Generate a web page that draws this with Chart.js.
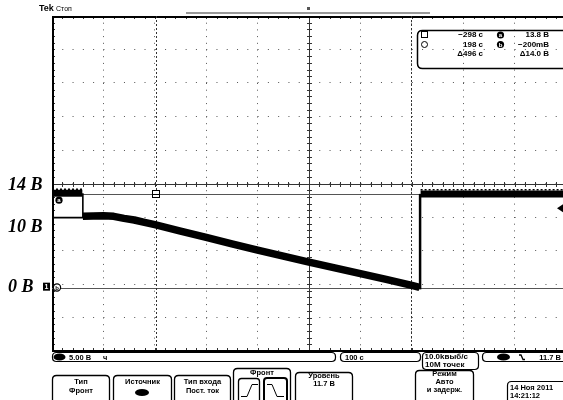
<!DOCTYPE html>
<html>
<head>
<meta charset="utf-8">
<script src="https://cdn.jsdelivr.net/npm/chart.js@4/dist/chart.umd.min.js"></script>
<style>
  html, body { margin: 0; padding: 0; background: #fff; overflow: hidden; }
  canvas { display: block; }
</style>
</head>
<body>
<canvas id="scope" width="563" height="400"></canvas>
<script>
// Graticule: 100 s/div horizontally, 5 V/div vertically
const timeRange = [-500, 494];
const voltRange = [-9.6, 40.4];
const centerTime = 0;
const centerVolt = 15.4;
const timeGrid = [-400, -300, -200, -100, 0, 100, 200, 300, 400];
const voltGrid = [-4.6, 0.4, 5.4, 10.4, 15.4, 20.4, 25.4, 30.4, 35.4];

// Channel 1 trace, seconds / volts
const preTimes  = [-500, -441];
const preVolts  = [13.95, 13.95];
const prePeaks  = [14.55, 14.55];
const rampTimes = [-440, -420, -400, -380, -360, -340, -320, -300, -250, -200, -150, -100, -50, 0, 50, 100, 150, 200, 215];
const rampVolts = [10.5, 10.55, 10.6, 10.5, 10.2, 9.95, 9.6, 9.25, 8.3, 7.35, 6.4, 5.45, 4.55, 3.66, 2.8, 1.95, 1.1, 0.2, -0.1];
const postTimes = [217, 494];
const postVolts = [13.85, 13.85];
const postPeaks = [14.45, 14.45];
const edgeTimes = [-500, -440, -440];
const edgeVolts = [10.3, 10.3, 13.95];
const riseTimes = [216, 216];
const riseVolts = [-0.4, 13.85];

// Cursors and trigger
const cursorTimes = [-298, 198];
const cursorVolts = [13.8, -0.2];
const triggerLevel = 11.7;

// Hand-written level marks on the left
const levelLabels = ['14 B', '10 B', '0 B'];
const levelLabelY = [185, 227, 287];

const pts = (ts, vs) => ts.map((t, i) => ({ x: t, y: vs[i] }));

function fmtTime(t) { return (t < 0 ? '\u2212' : '') + Math.abs(Math.round(t)) + ' c'; }
function fmtVolt(v) {
  if (Math.abs(v) < 1) return (v < 0 ? '\u2212' : '') + Math.round(Math.abs(v) * 1000) + 'mB';
  return (v < 0 ? '\u2212' : '') + Math.abs(v).toFixed(1) + ' B';
}

function rrect(ctx, x, y, w, h, r) {
  ctx.beginPath();
  ctx.moveTo(x + r, y);
  ctx.lineTo(x + w - r, y);
  ctx.quadraticCurveTo(x + w, y, x + w, y + r);
  ctx.lineTo(x + w, y + h - r);
  ctx.quadraticCurveTo(x + w, y + h, x + w - r, y + h);
  ctx.lineTo(x + r, y + h);
  ctx.quadraticCurveTo(x, y + h, x, y + h - r);
  ctx.lineTo(x, y + r);
  ctx.quadraticCurveTo(x, y, x + r, y);
  ctx.closePath();
}

function circLetter(ctx, cx, cy, ch, filled) {
  ctx.beginPath();
  ctx.arc(cx, cy, 3.6, 0, Math.PI * 2);
  if (filled) { ctx.fillStyle = '#000'; ctx.fill(); }
  else { ctx.fillStyle = '#fff'; ctx.fill(); ctx.lineWidth = 1.2; ctx.strokeStyle = '#000'; ctx.stroke(); }
  ctx.fillStyle = filled ? '#fff' : '#000';
  ctx.font = 'bold 6px "Liberation Sans"';
  ctx.textAlign = 'center'; ctx.textBaseline = 'middle';
  ctx.fillText(ch, cx, cy + 0.5);
}

// Centre crosshair, frame ticks and cursors
const graticule = {
  id: 'graticule',
  beforeDatasetsDraw(chart) {
    const { ctx, chartArea: a, scales: { x, y } } = chart;
    const cx = Math.round(x.getPixelForValue(centerTime)) + 0.5;
    const cy = Math.round(y.getPixelForValue(centerVolt)) + 0.5;
    ctx.save();
    ctx.strokeStyle = '#333';
    ctx.lineWidth = 1;
    ctx.beginPath();
    ctx.moveTo(a.left, cy); ctx.lineTo(a.right, cy);
    ctx.moveTo(cx, a.top); ctx.lineTo(cx, a.bottom);
    for (let t = timeRange[0]; t <= timeRange[1]; t += 20) {
      const px = Math.round(x.getPixelForValue(t)) + 0.5;
      ctx.moveTo(px, cy - 2.5); ctx.lineTo(px, cy + 2.5);
      ctx.moveTo(px, a.top); ctx.lineTo(px, a.top + 3);
      ctx.moveTo(px, a.bottom); ctx.lineTo(px, a.bottom - 3);
    }
    for (let v = voltRange[0]; v <= voltRange[1] + 0.01; v += 1) {
      const py = Math.round(y.getPixelForValue(v)) + 0.5;
      ctx.moveTo(cx - 2.5, py); ctx.lineTo(cx + 2.5, py);
      ctx.moveTo(a.left, py); ctx.lineTo(a.left + 3, py);
    }
    ctx.stroke();

    // frame
    ctx.strokeStyle = '#000';
    ctx.lineWidth = 2;
    ctx.beginPath();
    ctx.moveTo(a.left + 1, a.bottom); ctx.lineTo(a.left + 1, a.top + 1); ctx.lineTo(a.right, a.top + 1);
    ctx.moveTo(a.left, a.bottom); ctx.lineTo(a.right, a.bottom);
    ctx.stroke();

    // horizontal cursors
    ctx.strokeStyle = '#555';
    ctx.lineWidth = 1;
    ctx.beginPath();
    cursorVolts.forEach(v => {
      const py = Math.round(y.getPixelForValue(v)) + 0.5;
      ctx.moveTo(a.left, py); ctx.lineTo(a.right, py);
    });
    ctx.stroke();
    // vertical cursors
    ctx.strokeStyle = '#333';
    ctx.setLineDash([2, 2]);
    ctx.beginPath();
    cursorTimes.forEach(t => {
      const px = Math.round(x.getPixelForValue(t)) + 0.5;
      ctx.moveTo(px, a.top); ctx.lineTo(px, a.bottom);
    });
    ctx.stroke();
    ctx.setLineDash([]);
    ctx.restore();
  },
  afterDatasetsDraw(chart) {
    const { ctx, chartArea: a, scales: { x, y } } = chart;
    ctx.save();
    // cursor 1 marker
    const mx = Math.round(x.getPixelForValue(cursorTimes[0]));
    const my = Math.round(y.getPixelForValue(cursorVolts[0]));
    ctx.fillStyle = '#fff';
    ctx.fillRect(mx - 3.5, my - 3.5, 7, 7);
    ctx.strokeStyle = '#000'; ctx.lineWidth = 1;
    ctx.strokeRect(mx - 3.5, my - 3.5, 7, 7);
    ctx.beginPath(); ctx.moveTo(mx - 3.5, my + 0.5); ctx.lineTo(mx + 3.5, my + 0.5); ctx.stroke();

    // trigger level arrow on the right edge
    const ty = y.getPixelForValue(triggerLevel);
    ctx.fillStyle = '#000';
    ctx.beginPath();
    ctx.moveTo(a.right - 6, ty); ctx.lineTo(a.right, ty - 4); ctx.lineTo(a.right, ty + 4); ctx.closePath();
    ctx.fill();

    // cursor tags a / b and channel ground mark
    circLetter(ctx, a.left + 7, y.getPixelForValue(cursorVolts[0]) + 6, 'a', true);
    circLetter(ctx, a.left + 5, y.getPixelForValue(cursorVolts[1]) - 0.5, 'b', false);
    const gy = y.getPixelForValue(0);
    ctx.fillStyle = '#000';
    ctx.fillRect(a.left - 9, gy - 4, 7, 8);
    ctx.fillStyle = '#fff';
    ctx.font = 'bold 7px "Liberation Sans"';
    ctx.textAlign = 'center'; ctx.textBaseline = 'middle';
    ctx.fillText('1', a.left - 5.5, gy + 0.5);
    ctx.restore();
  },
  afterDraw(chart) {
    const { ctx } = chart;
    ctx.save();
    ctx.fillStyle = '#000';
    ctx.strokeStyle = '#000';

    // header
    ctx.textBaseline = 'alphabetic'; ctx.textAlign = 'left';
    ctx.font = 'bold 9px "Liberation Sans"';
    ctx.fillText('Tek', 39, 11);
    ctx.font = '7px "Liberation Sans"';
    ctx.fillText('Стоп', 56, 11);
    ctx.strokeStyle = '#999'; ctx.lineWidth = 2;
    ctx.beginPath(); ctx.moveTo(186, 13); ctx.lineTo(430, 13); ctx.stroke();
    ctx.fillStyle = '#555';
    ctx.fillRect(307, 7, 3, 3);

    // level marks
    ctx.fillStyle = '#000';
    ctx.font = 'bold italic 18px "Liberation Serif"';
    ctx.textAlign = 'left'; ctx.textBaseline = 'middle';
    levelLabels.forEach((s, i) => ctx.fillText(s, 8, levelLabelY[i]));

    // cursor readout
    ctx.strokeStyle = '#000'; ctx.lineWidth = 1.5;
    rrect(ctx, 417.5, 30.5, 160, 38, 5); ctx.stroke();
    ctx.lineWidth = 1;
    ctx.strokeRect(421.5, 31.5, 6, 6);
    ctx.beginPath(); ctx.arc(424.5, 44.5, 3, 0, Math.PI * 2); ctx.stroke();
    ctx.font = 'bold 8px "Liberation Sans"';
    ctx.textBaseline = 'middle'; ctx.textAlign = 'right';
    ctx.fillText(fmtTime(cursorTimes[0]), 483, 35);
    ctx.fillText(fmtTime(cursorTimes[1]), 483, 44.5);
    ctx.fillText('\u0394' + fmtTime(cursorTimes[1] - cursorTimes[0]), 483, 54);
    ctx.fillText(fmtVolt(cursorVolts[0]), 549, 35);
    ctx.fillText(fmtVolt(cursorVolts[1]), 549, 44.5);
    ctx.fillText('\u0394' + fmtVolt(cursorVolts[0] - cursorVolts[1]), 549, 54);
    circLetter(ctx, 500.5, 35, 'a', true);
    circLetter(ctx, 500.5, 44.5, 'b', true);

    // status bar
    ctx.strokeStyle = '#000'; ctx.lineWidth = 1.2; ctx.fillStyle = '#000';
    rrect(ctx, 52.5, 352.5, 283, 9, 4); ctx.stroke();
    rrect(ctx, 340.5, 352.5, 80, 9, 4); ctx.stroke();
    rrect(ctx, 422.5, 352.5, 56, 17, 4); ctx.stroke();
    rrect(ctx, 482.5, 352.5, 90, 9, 4); ctx.stroke();
    ctx.beginPath(); ctx.ellipse(59.5, 357, 6, 3.6, 0, 0, Math.PI * 2); ctx.fill();
    ctx.beginPath(); ctx.ellipse(503.5, 357, 6.5, 3.6, 0, 0, Math.PI * 2); ctx.fill();
    ctx.font = 'bold 7.5px "Liberation Sans"';
    ctx.textAlign = 'left'; ctx.textBaseline = 'middle';
    ctx.fillText('5.00 B', 69, 357.5);
    ctx.fillText('\u0447', 103, 357.5);
    ctx.fillText('100 c', 345, 357.5);
    ctx.font = 'bold 8px "Liberation Sans"';
    ctx.fillText('10.0kвыб/с', 424.5, 356.5);
    ctx.fillText('10M точек', 425, 365);
    ctx.font = 'bold 7.5px "Liberation Sans"';
    ctx.textAlign = 'right';
    ctx.fillText('11.7 B', 561, 357.5);
    ctx.lineWidth = 1.3;
    ctx.beginPath(); ctx.moveTo(519, 355); ctx.lineTo(521, 355); ctx.lineTo(523, 359.5); ctx.lineTo(525, 359.5); ctx.stroke();

    // soft-key menu
    ctx.lineWidth = 1.3;
    const keys = [
      { x: 52.5, w: 57, top: 375.5, lines: ['Тип', 'Фронт'], ys: [382, 391] },
      { x: 113.5, w: 58, top: 375.5, lines: ['Источник'], ys: [382] },
      { x: 174.5, w: 56, top: 375.5, lines: ['Тип входа', 'Пост. ток'], ys: [382, 391] },
      { x: 233.5, w: 57, top: 368.5, lines: ['Фронт'], ys: [373] },
      { x: 295.5, w: 57, top: 372.5, lines: ['Уровень', '11.7 B'], ys: [376, 384] },
      { x: 415.5, w: 58, top: 370.5, lines: ['Режим', 'Авто', 'и задерж.'], ys: [374, 381.5, 389.5] }
    ];
    ctx.textAlign = 'center';
    keys.forEach(k => {
      rrect(ctx, k.x, k.top, k.w, 40, 4); ctx.stroke();
      k.lines.forEach((s, i) => ctx.fillText(s, k.x + k.w / 2, k.ys[i]));
    });
    ctx.beginPath(); ctx.ellipse(142, 392.5, 7, 3.6, 0, 0, Math.PI * 2); ctx.fill();
    // edge icons
    rrect(ctx, 238.5, 378.5, 21, 26, 3); ctx.stroke();
    ctx.lineWidth = 2;
    rrect(ctx, 264, 378, 23, 27, 3); ctx.stroke();
    ctx.lineWidth = 1;
    ctx.beginPath();
    ctx.moveTo(241, 396.5); ctx.lineTo(247, 396.5); ctx.lineTo(252, 384.5); ctx.lineTo(258, 384.5);
    ctx.moveTo(267, 384.5); ctx.lineTo(272, 384.5); ctx.lineTo(277, 396.5); ctx.lineTo(284, 396.5);
    ctx.stroke();
    // date stamp
    ctx.lineWidth = 1.2;
    rrect(ctx, 507.5, 381.5, 70, 30, 4); ctx.stroke();
    ctx.textAlign = 'left';
    ctx.font = 'bold 7.5px "Liberation Sans"';
    ctx.fillText('14 Ноя 2011', 510, 387.5);
    ctx.fillText('14:21:12', 510, 395.5);
    ctx.restore();
  }
};

const traceStyle = { borderColor: '#000', pointRadius: 0, fill: false, tension: 0 };

new Chart(document.getElementById('scope'), {
  type: 'line',
  data: {
    datasets: [
      { ...traceStyle, data: pts(preTimes, preVolts), borderWidth: 7, borderCapStyle: 'butt' },
      { ...traceStyle, data: pts(preTimes, prePeaks), borderWidth: 1.5, borderDash: [2, 2] },
      { ...traceStyle, data: pts(rampTimes, rampVolts), borderWidth: 7.5, borderJoinStyle: 'round' },
      { ...traceStyle, data: pts(postTimes, postVolts), borderWidth: 7, borderCapStyle: 'butt' },
      { ...traceStyle, data: pts(postTimes, postPeaks), borderWidth: 1.5, borderDash: [2, 2] },
      { ...traceStyle, data: pts(edgeTimes, edgeVolts), borderWidth: 1.6 },
      { ...traceStyle, data: pts(riseTimes, riseVolts), borderWidth: 2.5 }
    ]
  },
  options: {
    responsive: false,
    devicePixelRatio: 1,
    animation: false,
    layout: { padding: { left: 52, top: 16, right: 0, bottom: 49 } },
    plugins: { legend: { display: false }, tooltip: { enabled: false } },
    scales: {
      x: {
        type: 'linear', min: timeRange[0], max: timeRange[1],
        afterBuildTicks: s => { s.ticks = timeGrid.map(v => ({ value: v })); },
        ticks: { display: false },
        border: { display: false, dash: [1, 5.7] },
        grid: { color: '#555', lineWidth: 1, drawTicks: false }
      },
      y: {
        type: 'linear', min: voltRange[0], max: voltRange[1],
        afterBuildTicks: s => { s.ticks = voltGrid.map(v => ({ value: v })); },
        ticks: { display: false },
        border: { display: false, dash: [1, 9.28] },
        grid: { color: '#555', lineWidth: 1, drawTicks: false }
      }
    }
  },
  plugins: [graticule]
});
</script>
</body>
</html>
